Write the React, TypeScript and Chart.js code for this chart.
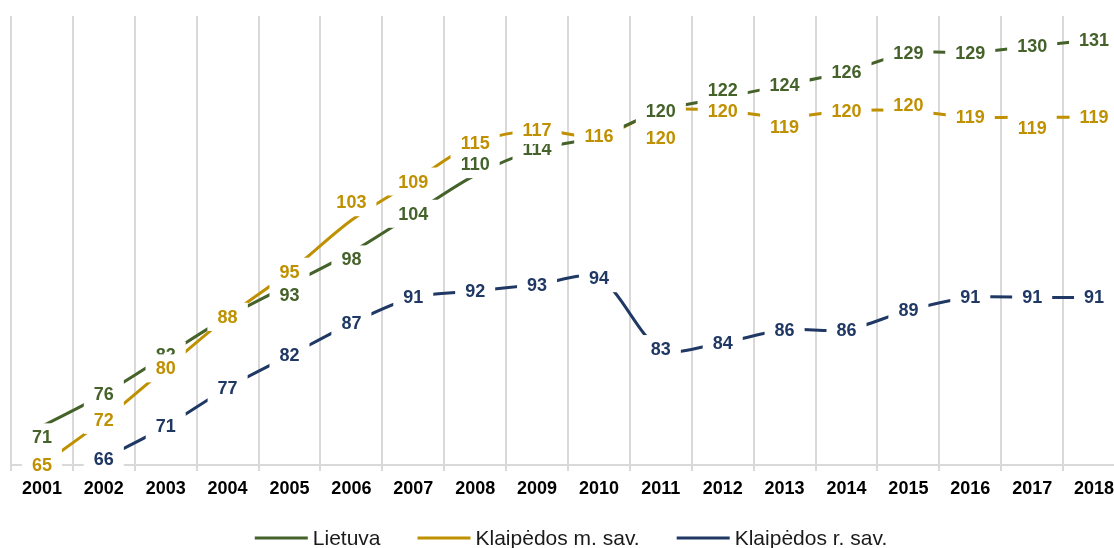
import React, { useEffect, useRef } from "react";
import { Chart, registerables } from "chart.js";

Chart.register(...registerables);

const years = ["2001", "2002", "2003", "2004", "2005", "2006", "2007", "2008", "2009", "2010", "2011", "2012", "2013", "2014", "2015", "2016", "2017", "2018"];
const seriesNames = ["Lietuva", "Klaipėdos m. sav.", "Klaipėdos r. sav."];
const lietuva = [71, 76, 82, 88, 93, 98, 104, 110, 114, 116, 120, 122, 124, 126, 129, 129, 130, 131];
const klaipedosM = [65, 72, 80, 88, 95, 103, 109, 115, 117, 116, 120, 120, 119, 120, 120, 119, 119, 119];
const klaipedosR = [null, 66, 71, 77, 82, 87, 91, 92, 93, 94, 83, 84, 86, 86, 89, 91, 91, 91];
const colors = ["#44622a", "#bf9000", "#1f3864"];

// label nudges (pixels, + = down), like manually placed Excel data labels
const lietuvaLabelShift = [11, 0, 0, 0, 10, 7, 0, -11, 0, 0, 0, -8, 0, 0, 0, 0, 0, 0];
const klaipedosMLabelShift = [0, 0, 0, 0, 0, -18, 0, 0, 0, 0, 27, 0, 10, 0, -6, 0, 11, 0];
const klaipedosRLabelShift = [0, 0, 0, 0, 0, 0, 0, 0, 0, 0, 0, 0, 0, 0, 0, 0, 0, 0];
const labelShifts = [lietuvaLabelShift, klaipedosMLabelShift, klaipedosRLabelShift];

const FONT = '"Liberation Sans", Arial, sans-serif';

const valueLabels = {
  id: "valueLabels",
  afterDatasetsDraw(chart: any) {
    const ctx = chart.ctx;
    ctx.save();
    ctx.font = `bold 18px ${FONT}`;
    ctx.textAlign = "center";
    ctx.textBaseline = "middle";
    chart.data.datasets.forEach((ds: any, i: number) => {
      const meta = chart.getDatasetMeta(i);
      const shifts = labelShifts[i];
      ds.data.forEach((v: any, j: number) => {
        if (v == null) return;
        const el = meta.data[j];
        const x = el.x;
        const y = el.y + shifts[j];
        const txt = String(v);
        const w = ctx.measureText(txt).width + 20;
        ctx.fillStyle = "#ffffff";
        ctx.fillRect(x - w / 2, y - 14, w, 28);
        ctx.fillStyle = ds.borderColor;
        ctx.fillText(txt, x, y + 1);
      });
    });
    ctx.restore();
  },
};

const bottomLegend = {
  id: "bottomLegend",
  afterDraw(chart: any) {
    const ctx = chart.ctx;
    ctx.save();
    ctx.font = `21px ${FONT}`;
    ctx.textAlign = "left";
    ctx.textBaseline = "middle";
    const sw = 53;
    const gap = 5;
    const between = 37;
    const items = chart.data.datasets.map((ds: any) => ({
      label: ds.label,
      color: ds.borderColor,
      tw: ctx.measureText(ds.label).width,
    }));
    let total = 0;
    items.forEach((it: any, k: number) => {
      total += sw + gap + it.tw + (k > 0 ? between : 0);
    });
    let x = chart.width / 2 - total / 2;
    const y = 538;
    items.forEach((it: any) => {
      ctx.fillStyle = it.color;
      ctx.fillRect(x, y - 1.5, sw, 3);
      ctx.fillStyle = "#1a1a1a";
      ctx.fillText(it.label, x + sw + gap, y + 1);
      x += sw + gap + it.tw + between;
    });
    ctx.restore();
  },
};

export default function App() {
  const ref = useRef<HTMLCanvasElement | null>(null);
  useEffect(() => {
    if (!ref.current) return;
    const data = [lietuva, klaipedosM, klaipedosR];
    const chart = new Chart(ref.current, {
      type: "line",
      data: {
        labels: years,
        datasets: data.map((d, i) => ({
          label: seriesNames[i],
          data: d,
          borderColor: colors[i],
          backgroundColor: colors[i],
          borderWidth: 3,
          pointRadius: 0,
          tension: 0.3,
          fill: false,
        })),
      },
      options: {
        responsive: false,
        animation: false,
        events: [],
        layout: { padding: { left: 11, right: 17, top: 16, bottom: 41.4 } },
        plugins: { legend: { display: false }, tooltip: { enabled: false } },
        scales: {
          x: {
            offset: true,
            grid: { offset: true, color: "#d9d9d9", lineWidth: 2, tickLength: 6, tickColor: "#d9d9d9" },
            border: { color: "#d9d9d9", width: 2 },
            ticks: { color: "#000", padding: 7, font: { family: FONT, size: 18, weight: "bold" } },
          },
          y: { display: false, min: 65, max: 134.7 },
        },
      },
      plugins: [valueLabels, bottomLegend],
    });
    return () => chart.destroy();
  }, []);
  return (
    <div style={{ position: "fixed", left: 0, top: 0, width: 1114, height: 548, overflow: "hidden", background: "#fff" }}>
      <canvas ref={ref} width={1142} height={548} style={{ display: "block" }} />
    </div>
  );
}
